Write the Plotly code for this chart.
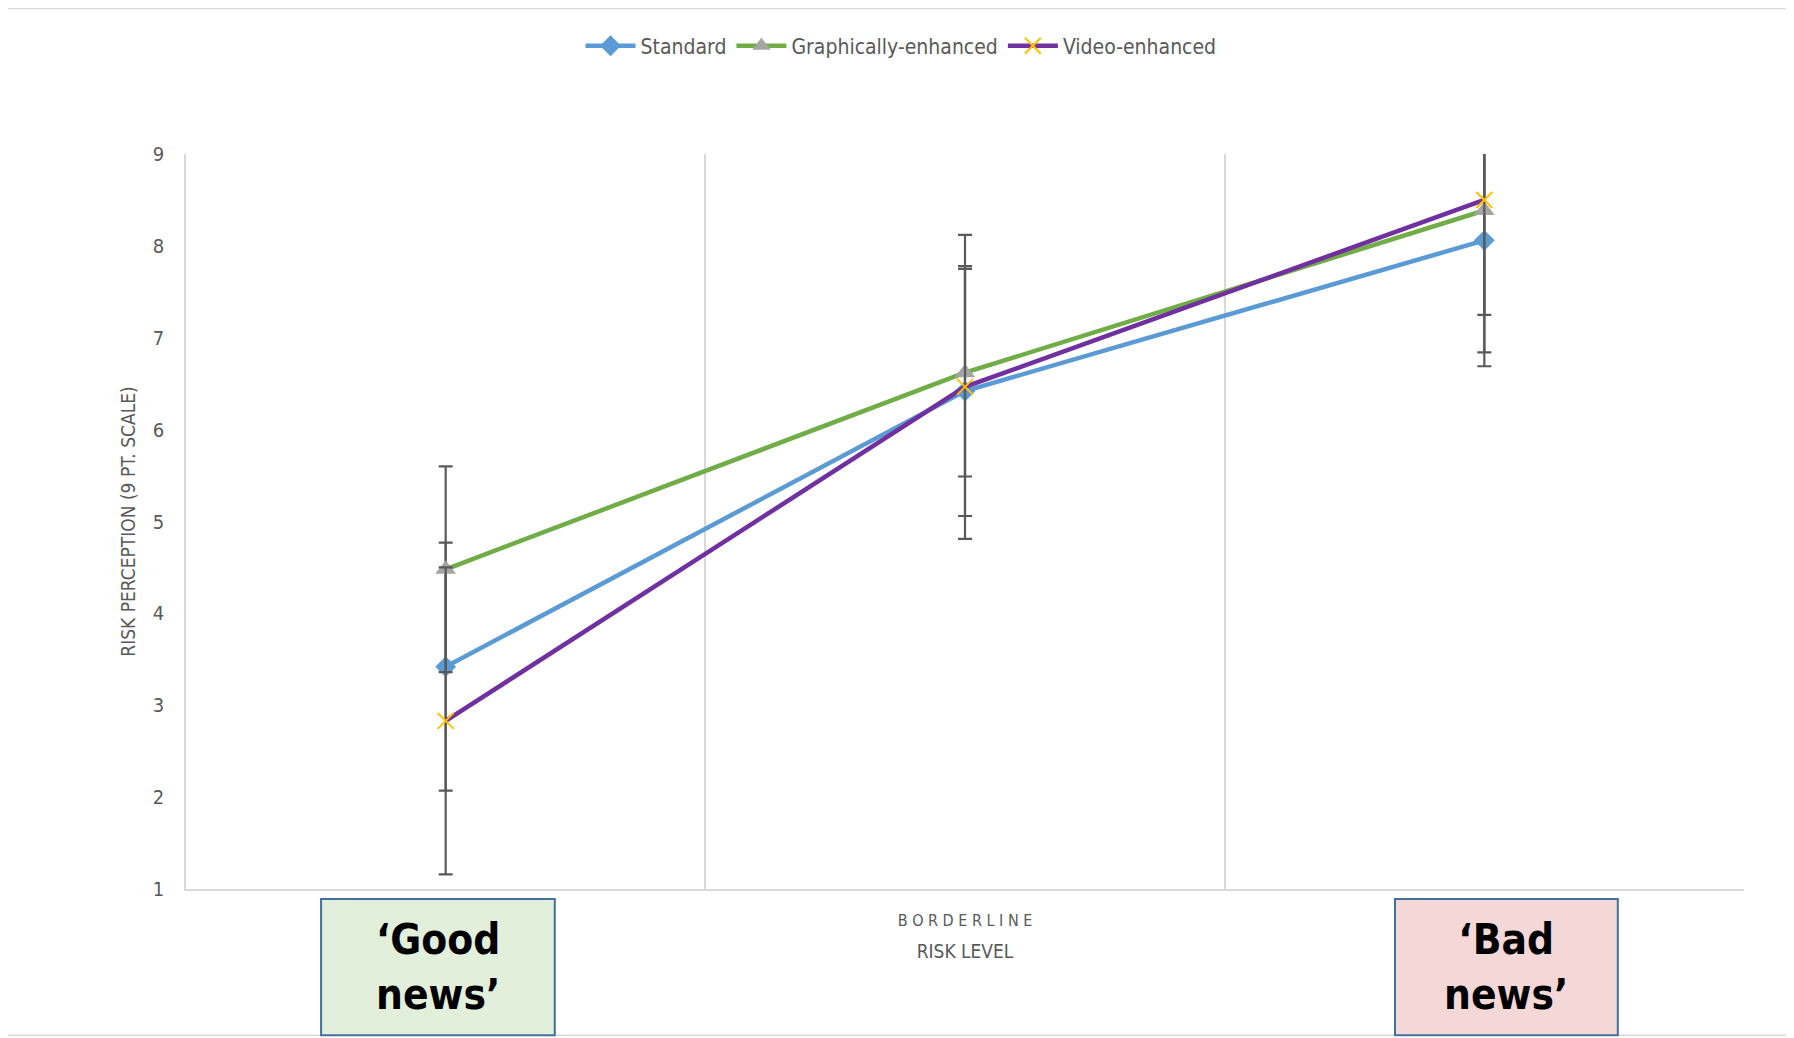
import plotly.graph_objects as go

categories = ["Good news", "Borderline", "Bad news"]
tick_labels = ["", "B O R D E R L I N E", ""]
series_names = ["Standard", "Graphically-enhanced", "Video-enhanced"]
standard = [3.42, 6.42, 8.06]
standard_err = [1.35, 1.36, 1.37]
graphical = [4.48, 6.62, 8.385]
graphical_err = [1.12, 1.13, 1.545]
video = [2.83, 6.465, 8.50]
video_err = [1.67, 1.655, 1.25]
y_ticks = [1, 2, 3, 4, 5, 6, 7, 8, 9]

NARROW = "Liberation Sans Narrow, DejaVu Sans Condensed, Arial Narrow, Roboto, sans-serif"
GRAY = "#595959"

fig = go.Figure()

def add(name, y, err, color, msym, msize, mcolor, mline=None):
    marker = dict(symbol=msym, size=msize, color=mcolor)
    if mline:
        marker["line"] = dict(color=mline, width=2)
    fig.add_trace(go.Scatter(
        x=categories, y=y, name=name, mode="lines+markers",
        line=dict(color=color, width=4.5),
        marker=marker,
        error_y=dict(type="data", array=err, visible=True, color=GRAY, thickness=2.2, width=7),
    ))

add(series_names[0], standard, standard_err, "#5B9BD5", "diamond", 16, "#5B9BD5")
add(series_names[1], graphical, graphical_err, "#70AD47", "triangle-up", 18, "#A5A5A5")
add(series_names[2], video, video_err, "#7030A0", "x-thin-open", 16, "#FFC000", "#FFC000")

# Box + label shapes (paper coordinates relative to plot area)
boxes = [
    dict(x0=0.0867, x1=0.2367, fill="#E2EFDA", text="‘Good<br>news’"),
    dict(x0=0.776, x1=0.919, fill="#F4D7D7", text="‘Bad<br>news’"),
]
shapes = []
annotations = []
for b in boxes:
    shapes.append(dict(type="rect", xref="paper", yref="paper", x0=b["x0"], x1=b["x1"],
                       y0=-0.199, y1=-0.0136, fillcolor=b["fill"],
                       line=dict(color="#41719C", width=2), layer="above"))
    annotations.append(dict(xref="paper", yref="paper", x=(b["x0"] + b["x1"]) / 2,
                            y=-0.106, text="<b>" + b["text"] + "</b>", showarrow=False,
                            font=dict(family=NARROW, size=42, color="black"),
                            xanchor="center", yanchor="middle"))
# outer chart border
shapes.append(dict(type="rect", xref="paper", yref="paper", x0=-0.116, x1=1.0286,
                   y0=-0.199, y1=1.198, line=dict(color="#D9D9D9", width=1.5),
                   fillcolor="rgba(0,0,0,0)", layer="below"))

fig.update_layout(
    width=1786, height=1030,
    margin=dict(l=178, r=50, t=146, b=149),
    paper_bgcolor="white", plot_bgcolor="white",
    font=dict(family=NARROW, color=GRAY),
    showlegend=True,
    legend=dict(orientation="h", xref="container", yref="container", x=0.5, y=0.963,
                xanchor="center", yanchor="middle", font=dict(size=21, color=GRAY),
                itemwidth=50, tracegroupgap=0),
    shapes=shapes,
    annotations=annotations,
    xaxis=dict(type="category", categoryorder="array", categoryarray=categories,
               range=[-0.5, 2.5], tickson="boundaries", showgrid=True, gridcolor="#D9D9D9",
               gridwidth=1.5, showline=True, linecolor="#D9D9D9", linewidth=1.5,
               ticks="", tickvals=categories, ticktext=tick_labels,
               tickfont=dict(size=16, color=GRAY), ticklabelstandoff=16,
               title=dict(text="RISK LEVEL", font=dict(size=19, color=GRAY), standoff=16),
               zeroline=False),
    yaxis=dict(range=[1, 9], tickvals=y_ticks, showgrid=False, showline=True,
               linecolor="#D9D9D9", linewidth=1.5, ticks="", zeroline=False,
               tickfont=dict(size=20, color=GRAY), ticklabelstandoff=16,
               title=dict(text="RISK PERCEPTION (9 PT. SCALE)", font=dict(size=19, color=GRAY),
                          standoff=12)),
)

fig.write_html("out.html")
